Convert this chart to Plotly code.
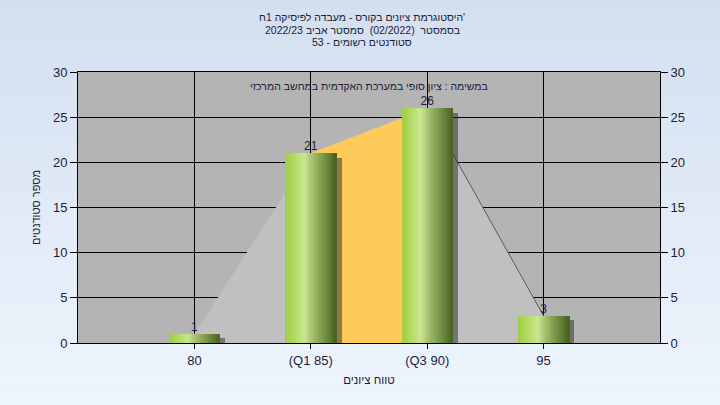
import plotly.graph_objects as go

# ---------------- data ----------------
categories = ["80", "(Q1 85)", "(Q3 90)", "95"]
students = [1, 21, 26, 3]
y_tick_values = [0, 5, 10, 15, 20, 25, 30]
title_lines = [
    "היסטוגרמת ציונים בקורס - מעבדה לפיסיקה 1ח'",
    "בסמסטר  (02/2022)  סמסטר אביב 2022/23",
    "סטודנטים רשומים - 53",
]
note_text = "במשימה : ציון סופי במערכת האקדמית במחשב המרכזי"
x_title = "טווח ציונים"
y_title = "מספר סטודנטים"

# ---------------- styling ----------------
FONT = "Liberation Sans, Arial, sans-serif"
TXT = "#1c1c3c"
x_pos = list(range(1, len(categories) + 1))
bar_w = 0.44
n_stripes = 26

stops = [(0.0, (158, 206, 60)), (0.38, (202, 230, 146)), (0.55, (160, 186, 104)),
         (0.8, (108, 138, 64)), (1.0, (70, 96, 30))]


def grad(t):
    for (t0, c0), (t1, c1) in zip(stops[:-1], stops[1:]):
        if t0 <= t <= t1:
            f = (t - t0) / (t1 - t0) if t1 > t0 else 0
            return "rgb(%d,%d,%d)" % tuple(round(a + (b - a) * f) for a, b in zip(c0, c1))
    return "rgb(%d,%d,%d)" % stops[-1][1]


def path(xs, ys):
    return "M " + " L ".join("%s,%s" % (x, y) for x, y in zip(xs, ys)) + " Z"


fig = go.Figure()

# bar shadows
fig.add_trace(go.Bar(
    x=x_pos, y=students, base=[-0.5] * len(students), width=bar_w,
    offset=-bar_w / 2 + 0.045, marker=dict(color="rgba(40,40,40,0.5)", line=dict(width=0)),
    hoverinfo="skip", showlegend=False))

# gradient bars built from stripes
for i in range(n_stripes):
    t = (i + 0.5) / n_stripes
    fig.add_trace(go.Bar(
        x=x_pos, y=students, width=bar_w / n_stripes * 1.15,
        offset=-bar_w / 2 + i * bar_w / n_stripes,
        marker=dict(color=grad(t), line=dict(width=0)),
        hoverinfo="skip", showlegend=False))

# value labels
fig.add_trace(go.Scatter(
    x=x_pos, y=students, mode="text", text=[str(v) for v in students],
    textposition="top center", textfont=dict(family=FONT, size=12, color=TXT),
    yaxis="y2", hoverinfo="skip", showlegend=False))

# background gradient (paper)
L, R, T, B = 78, 60, 72, 62
W, H = 720, 405
pw, ph = W - L - R, H - T - B
n_bg = 40
top_c, bot_c = (211, 223, 240), (238, 245, 253)
shapes = []
for i in range(n_bg):
    ytop = i * H / n_bg
    ybot = (i + 1) * H / n_bg
    f = (i + 0.5) / n_bg
    c = tuple(round(a + (b - a) * f) for a, b in zip(top_c, bot_c))
    shapes.append(dict(
        type="rect", xref="paper", yref="paper", layer="below",
        x0=-L / pw, x1=1 + R / pw,
        y0=(H - B - ybot) / ph, y1=(H - B - ytop) / ph,
        fillcolor="rgb(%d,%d,%d)" % c, line=dict(width=0)))
# plot area background
shapes.append(dict(type="rect", xref="x", yref="y", layer="below",
                   x0=0, x1=len(categories) + 1, y0=0, y1=30,
                   fillcolor="#b4b4b4", line=dict(width=0)))
# envelope polygon (light grey), inter-quartile region (orange), falling edge line
shapes.append(dict(type="path", xref="x", yref="y", layer="between",
                   path=path([x_pos[0]] + x_pos + [x_pos[-1]], [0] + students + [0]),
                   fillcolor="#c0c0c0", line=dict(width=0)))
shapes.append(dict(type="path", xref="x", yref="y", layer="between",
                   path=path([x_pos[1], x_pos[1], x_pos[2], x_pos[2]],
                             [0, students[1], students[2], 0]),
                   fillcolor="#fecb58", line=dict(width=0)))
shapes.append(dict(type="line", xref="x", yref="y", layer="between",
                   x0=x_pos[2], y0=students[2], x1=x_pos[3], y1=students[3],
                   line=dict(color="#5a5a5a", width=1)))

# title lines and note as annotations
annotations = []
for k, (line, ypix) in enumerate(zip(title_lines, [17, 29.5, 42])):
    annotations.append(dict(text=line, xref="paper", yref="paper",
                            x=(362 - L) / pw, y=(H - B - ypix) / ph,
                            showarrow=False, xanchor="center", yanchor="middle",
                            font=dict(family=FONT, size=10.5, color=TXT)))
annotations.append(dict(text=note_text, xref="paper", yref="paper",
                        x=(369 - L) / pw, y=(H - B - 86) / ph,
                        showarrow=False, xanchor="center", yanchor="middle",
                        font=dict(family=FONT, size=10.5, color=TXT)))

fig.update_layout(
    width=W, height=H,
    margin=dict(l=L, r=R, t=T, b=B),
    paper_bgcolor="#e0eaf6", plot_bgcolor="#b4b4b4",
    barmode="overlay", bargap=0,
    shapes=shapes,
    font=dict(family=FONT, color=TXT),
    xaxis=dict(range=[0, len(categories) + 1], tickvals=x_pos, ticktext=categories,
               showgrid=True, gridcolor="#000000", gridwidth=1, zeroline=False,
               showline=True, linecolor="#000000", linewidth=1, mirror=True,
               ticks="outside", ticklen=5, tickcolor="#000000",
               tickfont=dict(family=FONT, size=13, color=TXT),
               title=dict(text=x_title, standoff=9, font=dict(family=FONT, size=11.5, color=TXT)),
               fixedrange=True),
    yaxis=dict(range=[0, 30], tickvals=y_tick_values,
               showgrid=True, gridcolor="#000000", gridwidth=1, zeroline=False,
               showline=True, linecolor="#000000", linewidth=1, mirror=True,
               ticks="outside", ticklen=7, tickcolor="#000000",
               tickfont=dict(family=FONT, size=13, color=TXT),
               title=dict(text=y_title, standoff=10, font=dict(family=FONT, size=11, color=TXT)),
               fixedrange=True),
    yaxis2=dict(range=[0, 30], tickvals=y_tick_values, overlaying="y", side="right",
                showgrid=False, zeroline=False, showline=True, linecolor="#000000",
                ticks="outside", ticklen=7, tickcolor="#000000",
                tickfont=dict(family=FONT, size=13, color=TXT), fixedrange=True),
    annotations=annotations,
)

fig.write_html("out.html", config={"displayModeBar": False},
               post_script="document.body.style.margin='0';")
